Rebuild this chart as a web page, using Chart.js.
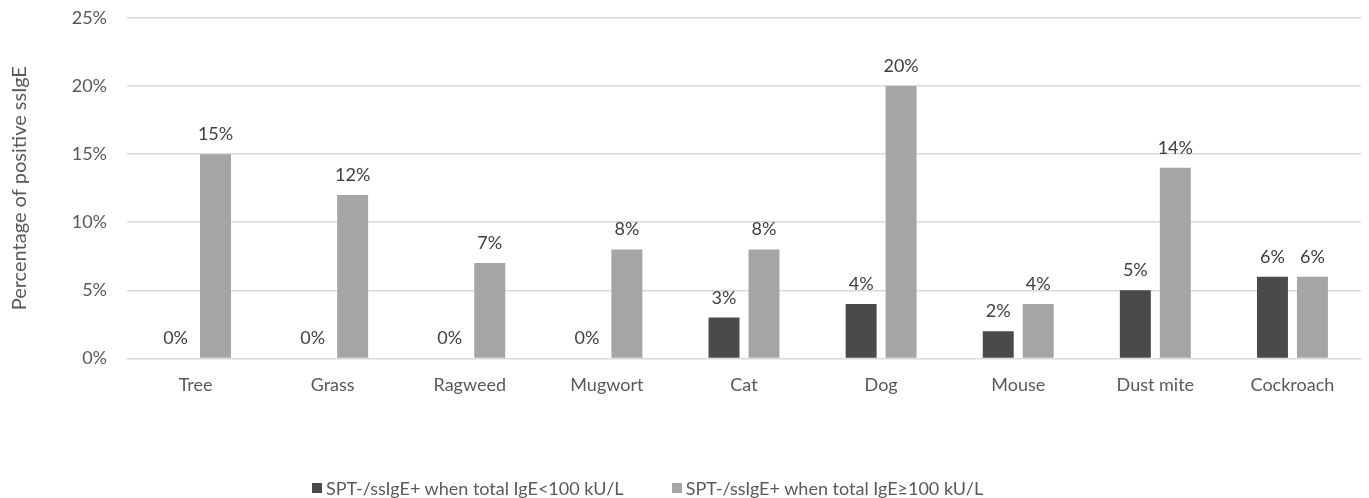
<!DOCTYPE html>
<html>
<head>
<meta charset="utf-8">
<script src="https://cdn.jsdelivr.net/npm/chart.js@4/dist/chart.umd.min.js"></script>
<style>
  html, body { margin: 0; padding: 0; background: #fff; }
  #wrap { position: relative; width: 1369px; height: 498px; }
  #chart { position: absolute; left: 0; top: 0; }
  #legend { position: absolute; left: 312px; top: 475px; font-family: Lato, "Open Sans", sans-serif; font-size: 18px; line-height: 22px; color: #595959; white-space: nowrap; }
  .item { display: inline-flex; align-items: center; margin-right: 48px; }
  .box { width: 10px; height: 10px; display: inline-block; margin-right: 4px; }
</style>
</head>
<body>
<div id="wrap">
  <canvas id="chart" width="1369" height="498"></canvas>
  <div id="legend"></div>
</div>
<script>
const categories = ['Tree', 'Grass', 'Ragweed', 'Mugwort', 'Cat', 'Dog', 'Mouse', 'Dust mite', 'Cockroach'];
const lowIgE = [0, 0, 0, 0, 3, 4, 2, 5, 6];
const highIgE = [15, 12, 7, 8, 8, 20, 4, 14, 6];
const seriesNames = ['SPT-/ssIgE+ when total IgE<100 kU/L', 'SPT-/ssIgE+ when total IgE\u2265100 kU/L'];
const seriesColors = ['#4a4a4a', '#a5a5a5'];
const yTicks = [0, 5, 10, 15, 20, 25];

const FONT = 'Lato, "Open Sans", sans-serif';

// Writes the value above every bar, including zero-height ones
const valueLabels = {
  id: 'valueLabels',
  afterDatasetsDraw(chart) {
    const ctx = chart.ctx;
    ctx.save();
    ctx.font = '18px ' + FONT;
    ctx.fillStyle = '#404040';
    ctx.textAlign = 'center';
    ctx.textBaseline = 'alphabetic';
    chart.data.datasets.forEach((ds, i) => {
      const meta = chart.getDatasetMeta(i);
      meta.data.forEach((bar, j) => {
        ctx.fillText(ds.data[j] + '%', bar.x, bar.y - 14);
      });
    });
    ctx.restore();
  }
};

new Chart(document.getElementById('chart'), {
  type: 'bar',
  data: {
    labels: categories,
    datasets: [
      { label: seriesNames[0], data: lowIgE, backgroundColor: seriesColors[0] },
      { label: seriesNames[1], data: highIgE, backgroundColor: seriesColors[1] }
    ]
  },
  options: {
    responsive: false,
    animation: false,
    layout: { padding: { left: 0, right: 8, top: 18, bottom: 86 } },
    datasets: { bar: { categoryPercentage: 0.583, barPercentage: 0.775 } },
    plugins: {
      legend: { display: false },
      tooltip: { enabled: false }
    },
    scales: {
      x: {
        grid: { display: false, drawTicks: false },
        border: { display: false },
        ticks: { color: '#595959', font: { family: FONT, size: 18 }, padding: 16 }
      },
      y: {
        min: 0,
        max: 25,
        afterBuildTicks(axis) { axis.ticks = yTicks.map(v => ({ value: v })); },
        afterFit(axis) { axis.width = 127; axis.paddingTop = 0; axis.paddingBottom = 0; },
        ticks: { color: '#595959', font: { family: FONT, size: 18 }, padding: 20, callback: v => v + '%' },
        grid: { color: '#d9d9d9', lineWidth: 1.5, drawTicks: false },
        border: { display: false },
        title: { display: true, text: 'Percentage of positive ssIgE', color: '#595959', font: { family: FONT, size: 20 }, padding: { top: 8, bottom: 0 } }
      }
    }
  },
  plugins: [valueLabels]
});

// Legend row under the chart
const legend = document.getElementById('legend');
seriesNames.forEach((name, i) => {
  const item = document.createElement('span');
  item.className = 'item';
  const box = document.createElement('span');
  box.className = 'box';
  box.style.background = seriesColors[i];
  item.appendChild(box);
  item.appendChild(document.createTextNode(name));
  legend.appendChild(item);
});
</script>
</body>
</html>
